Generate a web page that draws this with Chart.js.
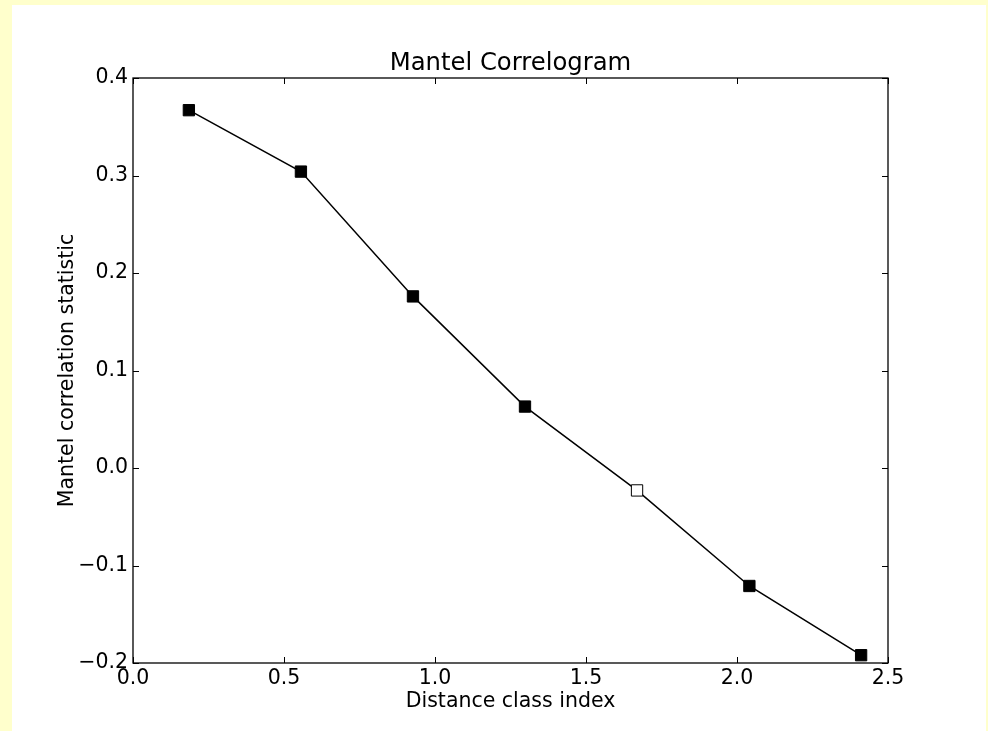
<!DOCTYPE html>
<html>
<head>
<meta charset="utf-8">
<script src="https://cdn.jsdelivr.net/npm/chart.js@4/dist/chart.umd.min.js"></script>
<style>
  html, body { margin: 0; padding: 0; background: #ffffcc; width: 988px; height: 731px; overflow: hidden; }
  #wrap { position: absolute; left: 12px; top: 5px; width: 974px; height: 726px; background: #fff; }
</style>
</head>
<body>
<div id="wrap"><canvas id="chart"></canvas></div>
<script>
// distance class index vs Mantel r; the open marker is the non-significant class
const distClass = [0.185, 0.556, 0.927, 1.298, 1.669, 2.041, 2.411];
const mantelR = [0.367, 0.304, 0.176, 0.063, -0.023, -0.121, -0.192];
const significant = [true, true, true, true, false, true, true];
const xTicks = [0.0, 0.5, 1.0, 1.5, 2.0, 2.5];
const yTicks = [-0.2, -0.1, 0.0, 0.1, 0.2, 0.3, 0.4];
const chartTitle = 'Mantel Correlogram';

const FONT = 'DejaVu Sans';

function fmt(v) {
  return v < 0 ? '\u2212' + Math.abs(v).toFixed(1) : v.toFixed(1);
}

// matplotlib-style box with inward ticks on every side, title centred on the axes
const frameTicks = {
  id: 'frameTicks',
  beforeDatasetsDraw(chart) {
    const { ctx, chartArea: a, scales } = chart;
    const len = 6;
    ctx.save();
    ctx.strokeStyle = '#000';
    ctx.lineWidth = 1;
    ctx.beginPath();
    scales.x.ticks.forEach(t => {
      const px = Math.round(scales.x.getPixelForValue(t.value)) + 0.5;
      ctx.moveTo(px, a.bottom); ctx.lineTo(px, a.bottom - len);
      ctx.moveTo(px, a.top); ctx.lineTo(px, a.top + len);
    });
    scales.y.ticks.forEach(t => {
      const py = Math.round(scales.y.getPixelForValue(t.value)) + 0.5;
      ctx.moveTo(a.left, py); ctx.lineTo(a.left + len, py);
      ctx.moveTo(a.right, py); ctx.lineTo(a.right - len, py);
    });
    ctx.stroke();
    ctx.lineWidth = 1.3;
    ctx.strokeRect(a.left, a.top, a.right - a.left, a.bottom - a.top);

    ctx.fillStyle = '#000';
    ctx.font = '24.3px "' + FONT + '"';
    ctx.textAlign = 'center';
    ctx.textBaseline = 'middle';
    ctx.fillText(chartTitle, (a.left + a.right) / 2, a.top - 14.5);
    ctx.restore();
  }
};

new Chart(document.getElementById('chart').getContext('2d'), {
  type: 'scatter',
  data: {
    datasets: [{
      data: distClass.map((x, i) => ({ x, y: mantelR[i] })),
      showLine: true,
      borderColor: '#000',
      borderWidth: 1.5,
      pointStyle: 'rect',
      pointRadius: 8,
      pointHoverRadius: 8,
      pointBorderWidth: 1,
      pointBorderColor: '#000',
      pointBackgroundColor: significant.map(s => s ? '#000' : '#fff'),
      clip: false
    }]
  },
  options: {
    responsive: true,
    maintainAspectRatio: false,
    animation: false,
    layout: { padding: { left: 0, top: 73, right: 98, bottom: 0 } },
    plugins: {
      legend: { display: false },
      tooltip: { enabled: false },
      title: { display: false }
    },
    scales: {
      x: {
        type: 'linear',
        min: 0, max: 2.5,
        afterBuildTicks: s => { s.ticks = xTicks.map(v => ({ value: v })); },
        afterFit: s => { s.height = 68; },
        grid: { display: false, drawTicks: false },
        border: { display: false },
        ticks: {
          color: '#000',
          padding: 3,
          maxRotation: 0,
          font: { family: FONT, size: 20.5 },
          callback: v => fmt(v)
        },
        title: {
          display: true,
          text: 'Distance class index',
          color: '#000',
          font: { family: FONT, size: 20.5 },
          padding: { top: 0, bottom: 17 }
        }
      },
      y: {
        type: 'linear',
        min: -0.2, max: 0.4,
        afterBuildTicks: s => { s.ticks = yTicks.map(v => ({ value: v })); },
        afterFit: s => { s.width = 121; },
        grid: { display: false, drawTicks: false },
        border: { display: false },
        ticks: {
          color: '#000',
          padding: 5,
          font: { family: FONT, size: 20.5 },
          callback: v => fmt(v)
        },
        title: {
          display: true,
          text: 'Mantel correlation statistic',
          color: '#000',
          font: { family: FONT, size: 20.5 },
          padding: { top: 43.5, bottom: 0 }
        }
      }
    }
  },
  plugins: [frameTicks]
});
</script>
</body>
</html>
